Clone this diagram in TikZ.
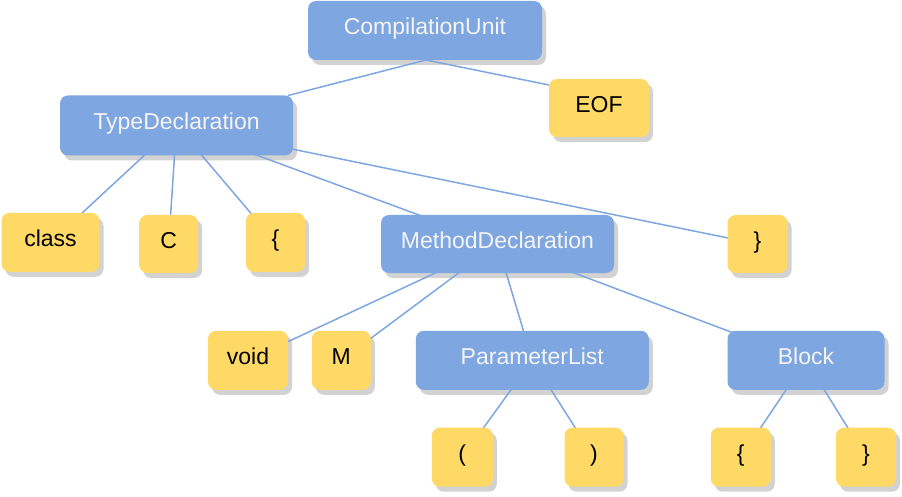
\documentclass[tikz,border=0pt]{standalone}
\usepackage{fontspec}
\setmainfont{Liberation Sans}
\pgfdeclarelayer{shad}
\pgfdeclarelayer{edge}
\pgfsetlayers{shad,edge,main}
\definecolor{nblue}{RGB}{126,166,224}
\definecolor{nyellow}{RGB}{255,217,102}
\definecolor{nshadow}{RGB}{210,210,210}
\definecolor{ntext}{RGB}{246,244,244}
\tikzset{
  base/.style={rounded corners=8pt, inner sep=0pt, outer sep=0pt, minimum height=59pt,
    text height=16pt, text depth=7.4pt, font=\fontsize{23}{27}\selectfont},
  rulebox/.style={base, fill=nblue, text=ntext},
  tokbox/.style={base, fill=nyellow, text=black},
  link/.style={draw=nblue, line width=1.5pt}
}
\begin{document}
\begin{tikzpicture}[x=1pt,y=-1pt]
\useasboundingbox (0,0) rectangle (902,497);
\node[rulebox, minimum width=234pt] (cu) at (425,30.5) {CompilationUnit};
\node[tokbox, minimum width=100pt, minimum height=58pt] (eof) at (599,108) {EOF};
\node[rulebox, minimum width=233pt, minimum height=60pt] (td) at (176.5,125.5) {TypeDeclaration};
\node[tokbox, minimum width=98pt] (cls) at (50.5,242.3) {class};
\node[tokbox, minimum width=59pt, minimum height=58pt] (cc) at (168.7,244) {C};
\node[tokbox, minimum width=59pt] (lb1) at (275.5,242.3) {\{};
\node[rulebox, minimum width=233pt, minimum height=58pt] (md) at (497.5,244) {MethodDeclaration};
\node[tokbox, minimum width=60pt, minimum height=58pt] (rb1) at (757.5,244) {\}};
\node[tokbox, minimum width=80pt] (void) at (248,360.3) {void};
\node[tokbox, minimum width=59pt] (mm) at (341.3,360.3) {M};
\node[rulebox, minimum width=233pt] (pl) at (532.3,360.3) {ParameterList};
\node[rulebox, minimum width=157pt] (blk) at (806,360.3) {Block};
\node[tokbox, minimum width=61pt] (lp) at (462.3,457.2) {(};
\node[tokbox, minimum width=59pt] (rp) at (594,457.2) {)};
\node[tokbox, minimum width=60pt] (lb2) at (740.8,457.2) {\{};
\node[tokbox, minimum width=60pt] (rb2) at (866,457.2) {\}};
\begin{pgfonlayer}{shad}
\foreach \n in {cu,eof,td,cls,cc,lb1,md,rb1,void,mm,pl,blk,lp,rp,lb2,rb2}
  \fill[nshadow, rounded corners=8pt] ([shift={(4,5)}]\n.south west) rectangle ([shift={(4,5)}]\n.north east);
\end{pgfonlayer}
\begin{pgfonlayer}{edge}
\draw[link] ([xshift=1pt]cu.south) -- ([xshift=-5pt]td.north east);
\draw[link] ([xshift=1pt]cu.south) -- ([yshift=-6pt]eof.north west);
\draw[link] (td.center) -- (cls.center);
\draw[link] (td.center) -- (cc.center);
\draw[link] (td.center) -- (lb1.center);
\draw[link] (td.center) -- (md.center);
\draw[link] (td.center) -- (rb1.center);
\draw[link] (md.center) -- (void.center);
\draw[link] (md.center) -- (mm.center);
\draw[link] (md.center) -- (pl.center);
\draw[link] (md.center) -- (blk.center);
\draw[link] (pl.center) -- (lp.center);
\draw[link] (pl.center) -- (rp.center);
\draw[link] (blk.center) -- (lb2.center);
\draw[link] (blk.center) -- (rb2.center);
\end{pgfonlayer}
\end{tikzpicture}
\end{document}
